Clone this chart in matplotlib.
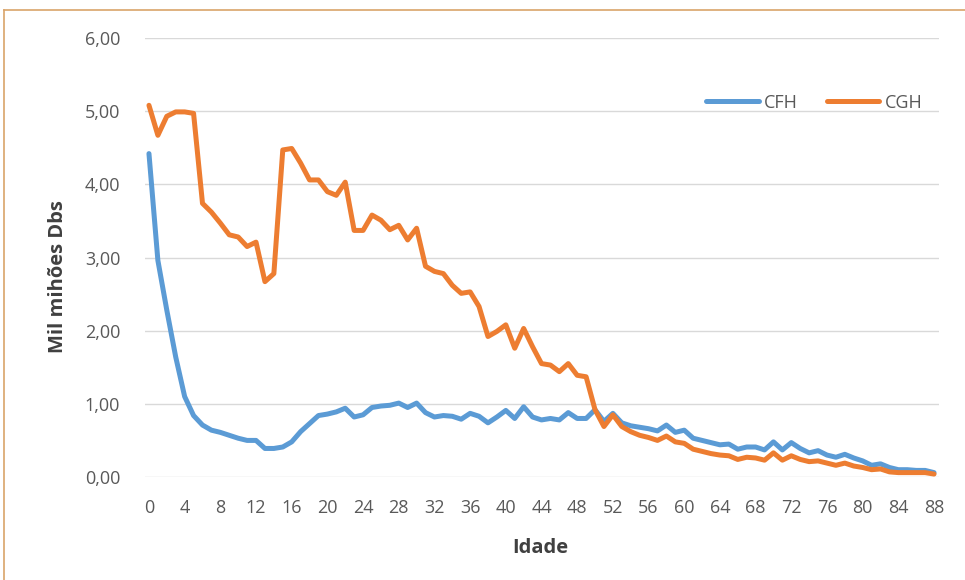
import matplotlib
matplotlib.use("Agg")
import matplotlib.pyplot as plt
from matplotlib.lines import Line2D
import numpy as np

ages = list(range(0, 89))
cfh = [4.42, 2.96, 2.28, 1.64, 1.10, 0.84, 0.71, 0.64, 0.61, 0.57,
       0.53, 0.50, 0.50, 0.39, 0.39, 0.41, 0.48, 0.62, 0.73, 0.84,
       0.86, 0.89, 0.94, 0.82, 0.85, 0.95, 0.97, 0.98, 1.01, 0.95,
       1.01, 0.88, 0.82, 0.84, 0.83, 0.79, 0.87, 0.83, 0.74, 0.82,
       0.91, 0.80, 0.96, 0.82, 0.78, 0.80, 0.78, 0.88, 0.80, 0.80,
       0.92, 0.76, 0.87, 0.74, 0.70, 0.68, 0.66, 0.63, 0.71, 0.61,
       0.64, 0.53, 0.50, 0.47, 0.44, 0.45, 0.38, 0.41, 0.41, 0.37,
       0.48, 0.37, 0.47, 0.39, 0.33, 0.36, 0.30, 0.27, 0.31, 0.26,
       0.22, 0.16, 0.18, 0.13, 0.10, 0.10, 0.09, 0.09, 0.06]
cgh = [5.08, 4.67, 4.93, 4.99, 4.99, 4.97, 3.74, 3.62, 3.47, 3.31,
       3.28, 3.15, 3.21, 2.67, 2.78, 4.47, 4.49, 4.29, 4.06, 4.06,
       3.90, 3.85, 4.03, 3.37, 3.37, 3.58, 3.51, 3.38, 3.44, 3.24,
       3.40, 2.88, 2.81, 2.78, 2.62, 2.51, 2.53, 2.33, 1.92, 1.99,
       2.08, 1.76, 2.03, 1.78, 1.55, 1.53, 1.44, 1.55, 1.39, 1.37,
       0.92, 0.69, 0.85, 0.69, 0.62, 0.57, 0.54, 0.50, 0.56, 0.48,
       0.46, 0.38, 0.35, 0.32, 0.30, 0.29, 0.24, 0.27, 0.26, 0.23,
       0.33, 0.23, 0.29, 0.24, 0.21, 0.22, 0.19, 0.16, 0.19, 0.15,
       0.13, 0.10, 0.11, 0.07, 0.06, 0.06, 0.06, 0.06, 0.04]
yticks = [0, 1, 2, 3, 4, 5, 6]
ytick_labels = ["0,00", "1,00", "2,00", "3,00", "4,00", "5,00", "6,00"]
xtick_vals = list(range(0, 89, 4))

plt.rcParams['font.family'] = ['Open Sans', 'DejaVu Sans']
TXT = '#595959'
BLUE = '#5B9BD5'
ORANGE = '#ED7D31'

fig = plt.figure(figsize=(9.65, 5.8), dpi=100)
ax = fig.add_axes([144.5/965, 1 - 477/580, (938.5 - 144.5)/965, (477 - 38)/580])

ax.plot(ages, cfh, color=BLUE, lw=3.6, solid_joinstyle='round', solid_capstyle='round', label='CFH', zorder=3)
ax.plot(ages, cgh, color=ORANGE, lw=3.6, solid_joinstyle='round', solid_capstyle='round', label='CGH', zorder=4)

ax.set_xlim(-0.5, 88.5)
ax.set_ylim(0, 6)
ax.set_yticks(yticks)
ax.set_yticklabels(ytick_labels)
ax.set_xticks(xtick_vals)
ax.set_xticklabels([str(v) for v in xtick_vals])
ax.tick_params(axis='both', length=0, colors=TXT, labelsize=13)
ax.tick_params(axis='y', pad=17.5)
ax.tick_params(axis='x', pad=16)
for s in ax.spines.values():
    s.set_visible(False)
ax.grid(axis='y', color='#D9D9D9', lw=1)
ax.set_axisbelow(True)

ax.set_xlabel('Idade', fontsize=14.5, fontweight='bold', color='#404040')
ax.set_ylabel('Mil mihões Dbs', fontsize=14.5, fontweight='bold', color='#404040')
ax.xaxis.set_label_coords((540 - 144.5) / 794, (477 - 538) / 439)
ax.yaxis.set_label_coords((68 - 144.5) / 794, 0.5 - (277 - 257.5) / 439)

ax.legend(loc='upper right', bbox_to_anchor=(1.0, 0.91), ncol=2, frameon=False,
          fontsize=13, labelcolor=TXT, handlelength=2.9, handletextpad=0.3,
          columnspacing=1.6)

# figure border (top and left)
fig.add_artist(Line2D([3.5/965, 1], [1 - 9.5/580, 1 - 9.5/580], color='#D9A46A', lw=1.2, transform=fig.transFigure))
fig.add_artist(Line2D([3.5/965, 3.5/965], [0, 1 - 9.5/580], color='#D9A46A', lw=1.2, transform=fig.transFigure))

fig.savefig('out.png', dpi=100)
